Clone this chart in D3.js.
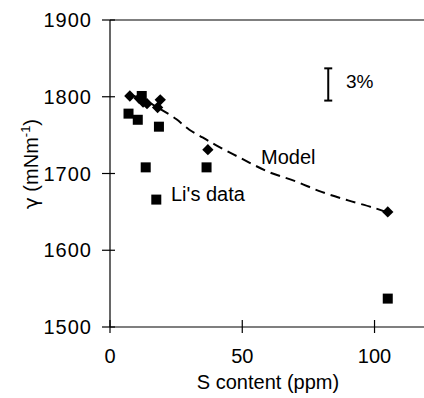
<!DOCTYPE html>
<html>
<head>
<meta charset="utf-8">
<script src="https://cdn.jsdelivr.net/npm/d3@7"></script>
<style>
  body { margin: 0; background: #fff; }
  svg text { font-family: "Liberation Sans", Arial, sans-serif; fill: #000; }
</style>
</head>
<body>
<div id="chart"></div>
<script>
// Model predictions (diamonds)
const modelX = [7.5, 11, 12.5, 14, 18, 19, 37, 105]
const modelY = [1801, 1798, 1793, 1791, 1786, 1796, 1731, 1650]

// Li's data (squares)
const liX = [7, 10.5, 12, 13.5, 17.5, 18.5, 36.5, 105]
const liY = [1778, 1770, 1801, 1708, 1666, 1761, 1708, 1537]

// dashed model curve
const curveX = [8, 12, 16, 20, 25, 30, 35, 40, 50, 60, 70, 80, 90, 100, 105]
const curveY = [1802, 1797, 1790, 1782, 1771, 1757, 1747, 1737, 1719, 1702, 1690, 1676, 1665, 1655, 1649]

const xTicks = [0, 50, 100]
const yTicks = [1500, 1600, 1700, 1800, 1900]

// 3% scale bar
const barX = 82.5
const barY = [1795, 1837]

const width = 424
const height = 398

const svg = d3.select("#chart")
    .append("svg")
    .attr("width", width)
    .attr("height", height)

const x = d3.scaleLinear()
    .domain([0, 118.7])
    .range([110, 424])
const y = d3.scaleLinear()
    .domain([1500, 1900])
    .range([327, 20])

// frame: top line
svg.append("line")
    .attr("x1", x(0)).attr("x2", width)
    .attr("y1", y(1900)).attr("y2", y(1900))
    .attr("stroke", "#000").attr("stroke-width", 1.2)

// y axis
svg.append("line")
    .attr("x1", x(0)).attr("x2", x(0))
    .attr("y1", y(1500)).attr("y2", y(1900))
    .attr("stroke", "#000").attr("stroke-width", 1.2)

svg.selectAll(".ytick")
    .data(yTicks)
    .enter().append("line")
    .attr("x1", x(0) - 8).attr("x2", x(0) + 5)
    .attr("y1", d => y(d)).attr("y2", d => y(d))
    .attr("stroke", "#000").attr("stroke-width", 1.2)

svg.selectAll(".ylab")
    .data(yTicks)
    .enter().append("text")
    .attr("x", 92)
    .attr("y", d => y(d) + 7)
    .attr("text-anchor", "end")
    .style("font-size", "20px")
    .style("letter-spacing", "1px")
    .text(d => d)

// x axis
svg.append("line")
    .attr("x1", x(0)).attr("x2", width)
    .attr("y1", y(1500)).attr("y2", y(1500))
    .attr("stroke", "#000").attr("stroke-width", 1.2)

svg.selectAll(".xtick")
    .data(xTicks)
    .enter().append("line")
    .attr("x1", d => x(d)).attr("x2", d => x(d))
    .attr("y1", y(1500) - 7).attr("y2", y(1500) + 6)
    .attr("stroke", "#000").attr("stroke-width", 1.2)

svg.selectAll(".xlab")
    .data(xTicks)
    .enter().append("text")
    .attr("x", d => x(d))
    .attr("y", 363)
    .attr("text-anchor", "middle")
    .style("font-size", "20px")
    .text(d => d)

svg.append("text")
    .attr("x", 268)
    .attr("y", 389)
    .attr("text-anchor", "middle")
    .style("font-size", "20px")
    .text("S content (ppm)")

const ylab = svg.append("text")
    .attr("transform", "translate(38, 164) rotate(-90)")
    .attr("text-anchor", "middle")
    .style("font-size", "20px")
ylab.append("tspan").style("font-family", "'DejaVu Sans', sans-serif").text("\u03B3")
ylab.append("tspan").text(" (mNm")
ylab.append("tspan").attr("dy", -8).style("font-size", "13px").text("-1")
ylab.append("tspan").attr("dy", 8).text(")")

// model curve
const line = d3.line()
    .x(d => x(d[0]))
    .y(d => y(d[1]))
    .curve(d3.curveCatmullRom)

svg.append("path")
    .datum(d3.zip(curveX, curveY))
    .attr("fill", "none")
    .attr("stroke", "#000")
    .attr("stroke-width", 2)
    .attr("stroke-dasharray", "10,6")
    .attr("d", line)

// Li's data squares
const sq = 10
svg.selectAll(".li")
    .data(d3.zip(liX, liY))
    .enter().append("rect")
    .attr("x", d => x(d[0]) - sq / 2)
    .attr("y", d => y(d[1]) - sq / 2)
    .attr("width", sq).attr("height", sq)
    .attr("fill", "#000")

// model diamonds
const diamond = d3.symbol().type(d3.symbolSquare).size(64)
svg.selectAll(".model")
    .data(d3.zip(modelX, modelY))
    .enter().append("path")
    .attr("d", diamond)
    .attr("transform", d => `translate(${x(d[0])},${y(d[1])}) rotate(45)`)
    .attr("fill", "#000")

// labels
svg.append("text")
    .attr("x", 261)
    .attr("y", 164)
    .style("font-size", "20px")
    .text("Model")

svg.append("text")
    .attr("x", 171)
    .attr("y", 201)
    .style("font-size", "20px")
    .text("Li's data")

// 3% bar
svg.append("line")
    .attr("x1", x(barX)).attr("x2", x(barX))
    .attr("y1", y(barY[0])).attr("y2", y(barY[1]))
    .attr("stroke", "#000").attr("stroke-width", 2)
barY.forEach(v => {
    svg.append("line")
        .attr("x1", x(barX) - 4).attr("x2", x(barX) + 4)
        .attr("y1", y(v)).attr("y2", y(v))
        .attr("stroke", "#000").attr("stroke-width", 2)
})

svg.append("text")
    .attr("x", 346)
    .attr("y", 88)
    .style("font-size", "19px")
    .text("3%")
</script>
</body>
</html>
